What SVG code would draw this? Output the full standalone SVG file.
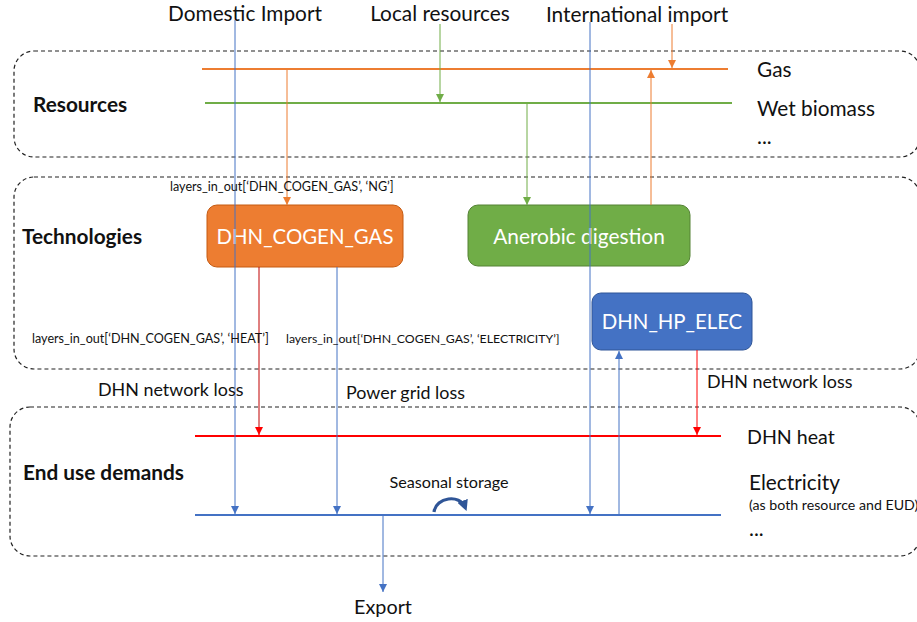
<svg xmlns="http://www.w3.org/2000/svg" width="917" height="622" viewBox="0 0 917 622">
  <style>
    text { font-family: Lato, "Open Sans", "Liberation Sans", sans-serif; fill: #111; }
    .title { font-size: 20.8px; font-weight: bold; }
    .lbl { font-size: 20.8px; }
    .loss { font-size: 17.9px; }
    .sm { font-size: 12.6px; }
    .xs { font-size: 14.2px; }
    .node-text { font-size: 20.4px; fill: #fff; text-anchor: middle; }
    .group { fill: none; stroke: #222; stroke-width: 1.2; stroke-dasharray: 4 3; }
    .c { fill: none; stroke-width: 1; }
    .bus { fill: none; stroke-width: 2.2; }
  </style>
  <defs>
    <marker id="aO" viewBox="0 0 10 10" refX="10" refY="5" markerWidth="8" markerHeight="8" markerUnits="userSpaceOnUse" orient="auto"><path d="M0,0 L10,5 L0,10 z" fill="#ED7D31"/></marker>
    <marker id="aG" viewBox="0 0 10 10" refX="10" refY="5" markerWidth="8" markerHeight="8" markerUnits="userSpaceOnUse" orient="auto"><path d="M0,0 L10,5 L0,10 z" fill="#70AD47"/></marker>
    <marker id="aB" viewBox="0 0 10 10" refX="10" refY="5" markerWidth="8" markerHeight="8" markerUnits="userSpaceOnUse" orient="auto"><path d="M0,0 L10,5 L0,10 z" fill="#4472C4"/></marker>
    <marker id="aR" viewBox="0 0 10 10" refX="10" refY="5" markerWidth="8" markerHeight="8" markerUnits="userSpaceOnUse" orient="auto"><path d="M0,0 L10,5 L0,10 z" fill="#FF0000"/></marker>
    <marker id="aS" viewBox="0 0 10 10" refX="6" refY="5" markerWidth="11" markerHeight="11" markerUnits="userSpaceOnUse" orient="auto"><path d="M0,0 L10,5 L0,10 z" fill="#2F5597"/></marker>
  </defs>

  <!-- layer groups -->
  <g id="group-resources">
    <rect class="group" x="14" y="51" width="906" height="106" rx="20"/>
    <text class="title" x="33" y="112">Resources</text>
  </g>
  <g id="group-technologies">
    <rect class="group" x="14" y="177" width="906" height="192" rx="20"/>
    <text class="title" x="22" y="244">Technologies</text>
  </g>
  <g id="group-eud">
    <rect class="group" x="10" y="407" width="910" height="149" rx="20"/>
    <text class="title" x="23" y="480">End use demands</text>
  </g>

  <!-- layer buses -->
  <g id="bus-gas">
    <line class="bus" x1="202" y1="69" x2="728" y2="69" stroke="#ED7D31"/>
    <text class="lbl" x="757" y="77">Gas</text>
  </g>
  <g id="bus-wet-biomass">
    <line class="bus" x1="205" y1="103" x2="732" y2="103" stroke="#70AD47"/>
    <text class="lbl" x="757" y="116">Wet biomass</text>
    <text class="lbl" x="757" y="144">...</text>
  </g>
  <g id="bus-dhn-heat">
    <line class="bus" x1="195" y1="436" x2="721" y2="436" stroke="#FF0000"/>
    <text class="lbl" x="747" y="444" style="font-size:19.6px">DHN heat</text>
  </g>
  <g id="bus-electricity">
    <line class="bus" x1="195" y1="515" x2="721" y2="515" stroke="#4472C4"/>
    <text class="lbl" x="749" y="490">Electricity</text>
    <text class="xs" x="749" y="510">(as both resource and EUD)</text>
    <text class="lbl" x="749" y="536">...</text>
  </g>

  <!-- technology nodes -->
  <g id="node-dhn-cogen-gas">
    <rect x="207" y="205" width="196" height="62" rx="10" fill="#ED7D31" stroke="#C55A11" stroke-width="1"/>
    <text class="node-text" x="305" y="244">DHN_COGEN_GAS</text>
  </g>
  <g id="node-anerobic-digestion">
    <rect x="468" y="205" width="222" height="61" rx="10" fill="#70AD47" stroke="#548235" stroke-width="1"/>
    <text class="node-text" x="579" y="244" style="font-size:20.9px">Anerobic digestion</text>
  </g>
  <g id="node-dhn-hp-elec">
    <rect x="592" y="293" width="160" height="57" rx="9" fill="#4472C4" stroke="#2F5597" stroke-width="1"/>
    <text class="node-text" x="672" y="329">DHN_HP_ELEC</text>
  </g>

  <!-- external sources and sinks -->
  <g id="src-domestic"><text class="lbl" x="245" y="21" text-anchor="middle">Domestic Import</text></g>
  <g id="src-local"><text class="lbl" x="440" y="21" text-anchor="middle">Local resources</text></g>
  <g id="src-international"><text class="lbl" x="637" y="22" text-anchor="middle">International import</text></g>
  <g id="sink-export"><text class="lbl" x="383" y="614" text-anchor="middle" style="font-size:19.8px">Export</text></g>

  <!-- connectors -->
  <g id="connectors">
    <line class="c" x1="235" y1="20" x2="235" y2="514" stroke="#4472C4" marker-end="url(#aB)"/>
    <line class="c" x1="590" y1="22" x2="590" y2="514" stroke="#4472C4" marker-end="url(#aB)"/>
    <line class="c" x1="440" y1="24" x2="440" y2="102" stroke="#70AD47" marker-end="url(#aG)"/>
    <line class="c" x1="672" y1="24" x2="672" y2="68" stroke="#ED7D31" marker-end="url(#aO)"/>
    <line class="c" x1="287" y1="70" x2="287" y2="205" stroke="#ED7D31" marker-end="url(#aO)"/>
    <line class="c" x1="527" y1="104" x2="527" y2="205" stroke="#70AD47" marker-end="url(#aG)"/>
    <line class="c" x1="651" y1="205" x2="651" y2="70" stroke="#ED7D31" marker-end="url(#aO)"/>
    <line class="c" x1="259" y1="267" x2="259" y2="435" stroke="#C00000" marker-end="url(#aR)"/>
    <line class="c" x1="337" y1="267" x2="337" y2="514" stroke="#4472C4" marker-end="url(#aB)"/>
    <line class="c" x1="697" y1="350" x2="697" y2="435" stroke="#FF0000" marker-end="url(#aR)"/>
    <line class="c" x1="619" y1="515" x2="619" y2="351" stroke="#4472C4" marker-end="url(#aB)"/>
    <line class="c" x1="383" y1="516" x2="383" y2="592" stroke="#4472C4" marker-end="url(#aB)"/>
    <!-- seasonal storage loop -->
    <path d="M434,512 C436,497 460,494 465,507" fill="none" stroke="#2F5597" stroke-width="3.2" marker-end="url(#aS)"/>

    <!-- connector labels -->
    <text class="sm" x="170" y="191">layers_in_out[‘DHN_COGEN_GAS’, ‘NG’]</text>
    <text class="sm" x="32" y="343">layers_in_out[‘DHN_COGEN_GAS’, ‘HEAT’]</text>
    <text class="sm" x="286" y="343" style="font-size:12.3px">layers_in_out[‘DHN_COGEN_GAS’, ‘ELECTRICITY’]</text>
    <text class="loss" x="98" y="396">DHN network loss</text>
    <text class="loss" x="346" y="399">Power grid loss</text>
    <text class="loss" x="707" y="388">DHN network loss</text>
    <text x="449" y="488" text-anchor="middle" style="font-size:16.2px">Seasonal storage</text>
  </g>
</svg>
